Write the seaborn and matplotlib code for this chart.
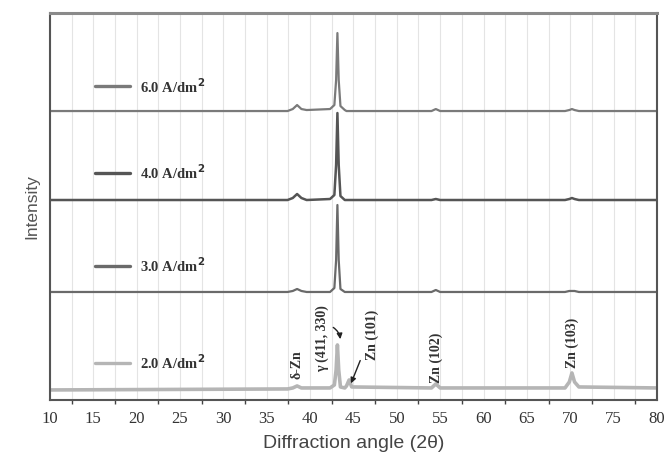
import numpy as np
import pandas as pd
import matplotlib
matplotlib.use("Agg")
import matplotlib.pyplot as plt
import seaborn as sns

# 2theta sample points (same grid for all four patterns)
two_theta = [10, 37.4, 38.0, 38.5, 39.0, 39.6, 42.3, 42.8, 43.0, 43.15, 43.3, 43.5, 44.0,
             44.2, 44.5, 44.8, 54.0, 54.5, 55.0, 69.4, 69.9, 70.2, 70.5, 71.0, 80]

# intensities (stacked, arbitrary units)
i_60 = [289, 289, 291, 295, 291, 290, 291, 295, 320, 367, 320, 294, 290,
        289, 289, 289, 289, 291, 289, 289, 290, 291, 290, 289, 289]
i_40 = [200, 200, 202, 206, 202, 200, 201, 205, 235, 287, 235, 204, 200,
        200, 200, 200, 200, 201, 200, 200, 201, 202, 201, 200, 200]
i_30 = [108, 108, 109, 111, 109, 108, 108, 112, 140, 195, 140, 111, 108,
        108, 108, 108, 108, 110, 108, 108, 109, 109, 109, 108, 108]
i_20 = [10, 11, 12, 14, 12, 12, 12, 15, 30, 55, 30, 13, 12,
        14, 20, 13, 12, 16, 12, 12, 18, 27, 18, 13, 12]

series = ["6.0", "4.0", "3.0", "2.0"]
colors = {"6.0": "#7a7a7a", "4.0": "#555555", "3.0": "#6a6a6a", "2.0": "#b5b5b5"}
widths = {"6.0": 1.6, "4.0": 1.8, "3.0": 1.6, "2.0": 2.6}
label_y = [0.811, 0.587, 0.346, 0.096]  # axes fraction of the key labels

# peak labels on the 2.0 A/dm2 pattern
peak_names = ["δ-Zn", "γ (411, 330)", "Zn (101)", "Zn (102)", "Zn (103)"]
peak_pos = [38.5, 41.4, 47.2, 54.5, 70.2]
peak_text_y = [21, 28, 40, 17, 32]

df = pd.DataFrame({
    "two_theta": two_theta * 4,
    "intensity": i_60 + i_40 + i_30 + i_20,
    "current": np.repeat(series, len(two_theta)),
})

sns.set_style("white")
plt.rcParams["font.family"] = ["Liberation Serif", "DejaVu Serif"]

fig = plt.figure(figsize=(6.71, 4.75), dpi=100)
ax = fig.add_axes([0.0745, 0.158, 0.9045, 0.8145])

for c in series:
    sub = df[df["current"] == c]
    sns.lineplot(data=sub, x="two_theta", y="intensity", ax=ax,
                 color=colors[c], lw=widths[c], estimator=None, sort=False)

ax.set_xlim(10, 80)
ax.set_ylim(0, 387)
ax.set_xticks(np.arange(10, 81, 5))
ax.set_xticks(np.arange(12.5, 80, 5), minor=True)
ax.set_yticks([])
ax.grid(True, axis="x", which="both", color="#e4e4e4", lw=0.8)
ax.set_axisbelow(True)
ax.tick_params(axis="x", which="major", direction="out", length=5, width=1.2,
               color="#444444", labelsize=12, labelcolor="#333333", pad=3)
ax.tick_params(axis="x", which="minor", direction="out", length=3, width=1.0,
               color="#444444", bottom=True)
for s in ax.spines.values():
    s.set_color("#555555")
    s.set_linewidth(1.5)
ax.spines["top"].set_color("#8a8a8a")
ax.spines["top"].set_linewidth(2.2)

ax.set_xlabel("Diffraction angle (2θ)", family=["Liberation Sans", "DejaVu Sans"],
              fontsize=14, color="#444444", labelpad=6)
ax.set_ylabel("Intensity", family=["Liberation Sans", "DejaVu Sans"],
              fontsize=12.5, color="#555555", labelpad=8)

# key lines and labels
for c, yy in zip(series, label_y):
    ax.plot([0.074, 0.132], [yy, yy], transform=ax.transAxes,
            color=colors[c], lw=2.4)
    ax.text(0.148, yy, c + r" A/dm$^\mathbf{2}$", transform=ax.transAxes,
            fontsize=10.5, fontweight="bold", color="#333333", va="center")

for name, xp, yp in zip(peak_names, peak_pos, peak_text_y):
    ax.text(xp, yp, name, rotation=90, ha="center", va="bottom",
            fontsize=10, fontweight="bold", color="#333333")

ax.annotate("", xy=(44.6, 14), xytext=(45.9, 42),
            arrowprops=dict(arrowstyle="-|>", color="#222222", lw=1, mutation_scale=8))
ax.annotate("", xy=(43.5, 58), xytext=(42.4, 74),
            arrowprops=dict(arrowstyle="-|>", color="#222222", lw=1, mutation_scale=8,
                            connectionstyle="arc3,rad=-0.3"))

fig.savefig("out.png", dpi=100)
